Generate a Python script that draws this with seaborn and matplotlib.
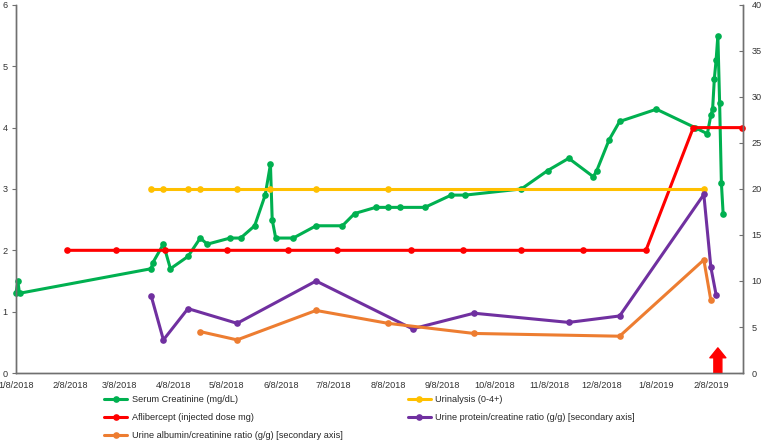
import matplotlib
matplotlib.use("Agg")
import matplotlib.pyplot as plt
import matplotlib.dates as mdates
from matplotlib.lines import Line2D
from matplotlib.ticker import FuncFormatter
import pandas as pd
import seaborn as sns

# Serum creatinine (mg/dL), left axis
creat_dates = ["2018-01-08", "2018-01-09", "2018-01-10", "2018-03-26", "2018-03-27",
               "2018-04-02", "2018-04-06", "2018-04-16", "2018-04-23", "2018-04-27",
               "2018-05-10", "2018-05-16", "2018-05-24", "2018-05-30", "2018-06-02",
               "2018-06-03", "2018-06-05", "2018-06-15", "2018-06-28", "2018-07-13",
               "2018-07-20", "2018-08-01", "2018-08-08", "2018-08-15", "2018-08-29",
               "2018-09-13", "2018-09-21", "2018-10-23", "2018-11-07", "2018-11-19",
               "2018-12-03", "2018-12-05", "2018-12-12", "2018-12-18", "2019-01-08",
               "2019-01-30", "2019-02-06", "2019-02-08", "2019-02-09", "2019-02-10",
               "2019-02-11", "2019-02-12", "2019-02-13", "2019-02-14", "2019-02-15"]
creat_vals = [1.3, 1.5, 1.3, 1.7, 1.8,
              2.1, 1.7, 1.9, 2.2, 2.1,
              2.2, 2.2, 2.4, 2.9, 3.4,
              2.5, 2.2, 2.2, 2.4, 2.4,
              2.6, 2.7, 2.7, 2.7, 2.7,
              2.9, 2.9, 3.0, 3.3, 3.5,
              3.2, 3.3, 3.8, 4.1, 4.3,
              4.0, 3.9, 4.2, 4.3, 4.8,
              5.1, 5.5, 4.4, 3.1, 2.6]

# Urinalysis (0-4+), left axis
ua_dates = ["2018-03-26", "2018-04-02", "2018-04-16", "2018-04-23", "2018-05-14",
            "2018-06-02", "2018-06-28", "2018-08-08", "2019-02-04"]
ua_vals = [3, 3, 3, 3, 3, 3, 3, 3, 3]

# Aflibercept dose (mg), left axis
afl_dates = ["2018-02-06", "2018-03-06", "2018-04-03", "2018-05-08", "2018-06-12",
             "2018-07-10", "2018-08-21", "2018-09-20", "2018-10-23", "2018-11-27",
             "2019-01-02", "2019-01-29", "2019-02-26"]
afl_vals = [2, 2, 2, 2, 2, 2, 2, 2, 2, 2, 2, 4, 4]

# Urine protein/creatinine ratio (g/g), right axis
upcr_dates = ["2018-03-26", "2018-04-02", "2018-04-16", "2018-05-14", "2018-06-28",
              "2018-08-22", "2018-09-26", "2018-11-19", "2018-12-18", "2019-02-04",
              "2019-02-08", "2019-02-11"]
upcr_vals = [8.4, 3.6, 7.0, 5.4, 10.0, 4.8, 6.5, 5.5, 6.2, 19.4, 11.5, 8.5]

# Urine albumin/creatinine ratio (g/g), right axis
uacr_dates = ["2018-04-23", "2018-05-14", "2018-06-28", "2018-08-08", "2018-09-26",
              "2018-12-18", "2019-02-04", "2019-02-08"]
uacr_vals = [4.5, 3.6, 6.8, 5.4, 4.3, 4.0, 12.3, 7.9]

labels = ["Serum Creatinine (mg/dL)", "Aflibercept (injected dose mg)",
          "Urine albumin/creatinine ratio (g/g) [secondary axis]",
          "Urinalysis (0-4+)", "Urine protein/creatine ratio (g/g) [secondary axis]"]
colors = ["#00B050", "#FF0000", "#ED7D31", "#FFC000", "#7030A0"]

arrow_date = "2019-02-12"
tick_dates = pd.date_range("2018-01-01", periods=14, freq="MS") + pd.Timedelta(days=7)

sns.set_style("white")
plt.rcParams["font.family"] = ["Liberation Sans", "DejaVu Sans"]
plt.rcParams["font.size"] = 6.6

fig, ax = plt.subplots(figsize=(7.63, 4.47), dpi=100)
fig.subplots_adjust(left=0.021, right=0.974, top=0.989, bottom=0.1655)
ax2 = ax.twinx()

style = dict(marker="o", markersize=4.8, markeredgewidth=0, linewidth=2.2,
             clip_on=False, estimator=None, legend=False)

sns.lineplot(x=pd.to_datetime(creat_dates), y=creat_vals, ax=ax, color=colors[0], **style)
sns.lineplot(x=pd.to_datetime(afl_dates), y=afl_vals, ax=ax, color=colors[1], **style)
sns.lineplot(x=pd.to_datetime(ua_dates), y=ua_vals, ax=ax, color=colors[3], **style)
sns.lineplot(x=pd.to_datetime(upcr_dates), y=upcr_vals, ax=ax2, color=colors[4], **style)
sns.lineplot(x=pd.to_datetime(uacr_dates), y=uacr_vals, ax=ax2, color=colors[2], **style)

ax.set_ylim(0, 6)
ax2.set_ylim(0, 40)
ax.set_xticks(tick_dates)
ax.set_xlim(pd.Timestamp("2018-01-08"), pd.Timestamp("2019-02-26 10:00"))
ax.xaxis.set_major_formatter(FuncFormatter(
    lambda v, p: (lambda d: f"{d.month}/{d.day}/{d.year}")(mdates.num2date(v))))
ax.set_xlabel("")
ax.set_ylabel("")
ax2.set_ylabel("")

# red arrow marking the last event
ax.annotate("", xy=(pd.Timestamp(arrow_date), 0.41), xytext=(pd.Timestamp(arrow_date), 0.0),
            arrowprops=dict(arrowstyle="simple,head_length=0.62,head_width=1.0,tail_width=0.5",
                            color="#FF0000", shrinkA=0, shrinkB=0, mutation_scale=11.5),
            annotation_clip=False)

spine_col = "#707070"
for a in (ax, ax2):
    for s in ("left", "right", "bottom"):
        a.spines[s].set_color(spine_col)
        a.spines[s].set_linewidth(1.0)
    a.spines["top"].set_visible(False)
ax.tick_params(axis="y", direction="out", length=3, width=0.8, colors=spine_col,
               labelcolor="#333333", pad=3)
ax.tick_params(axis="x", direction="in", length=3, width=0.8, colors=spine_col,
               labelcolor="#333333", pad=6)
ax2.tick_params(axis="y", direction="in", length=3, width=0.8, colors=spine_col,
                labelcolor="#333333", pad=6)
ax2.set_yticks(range(0, 41, 5))

handles = [Line2D([], [], color=c, marker="o", markersize=4.8, markeredgewidth=0,
                  linewidth=2.2) for c in colors]
fig.legend(handles, labels, ncol=2, loc="upper left", bbox_to_anchor=(0.1365, 0.116),
           frameon=False, borderpad=0, borderaxespad=0, handlelength=2.5,
           handletextpad=0.5, labelspacing=1.0, columnspacing=7.1, fontsize=6.6)

fig.savefig("out.png", dpi=100)
